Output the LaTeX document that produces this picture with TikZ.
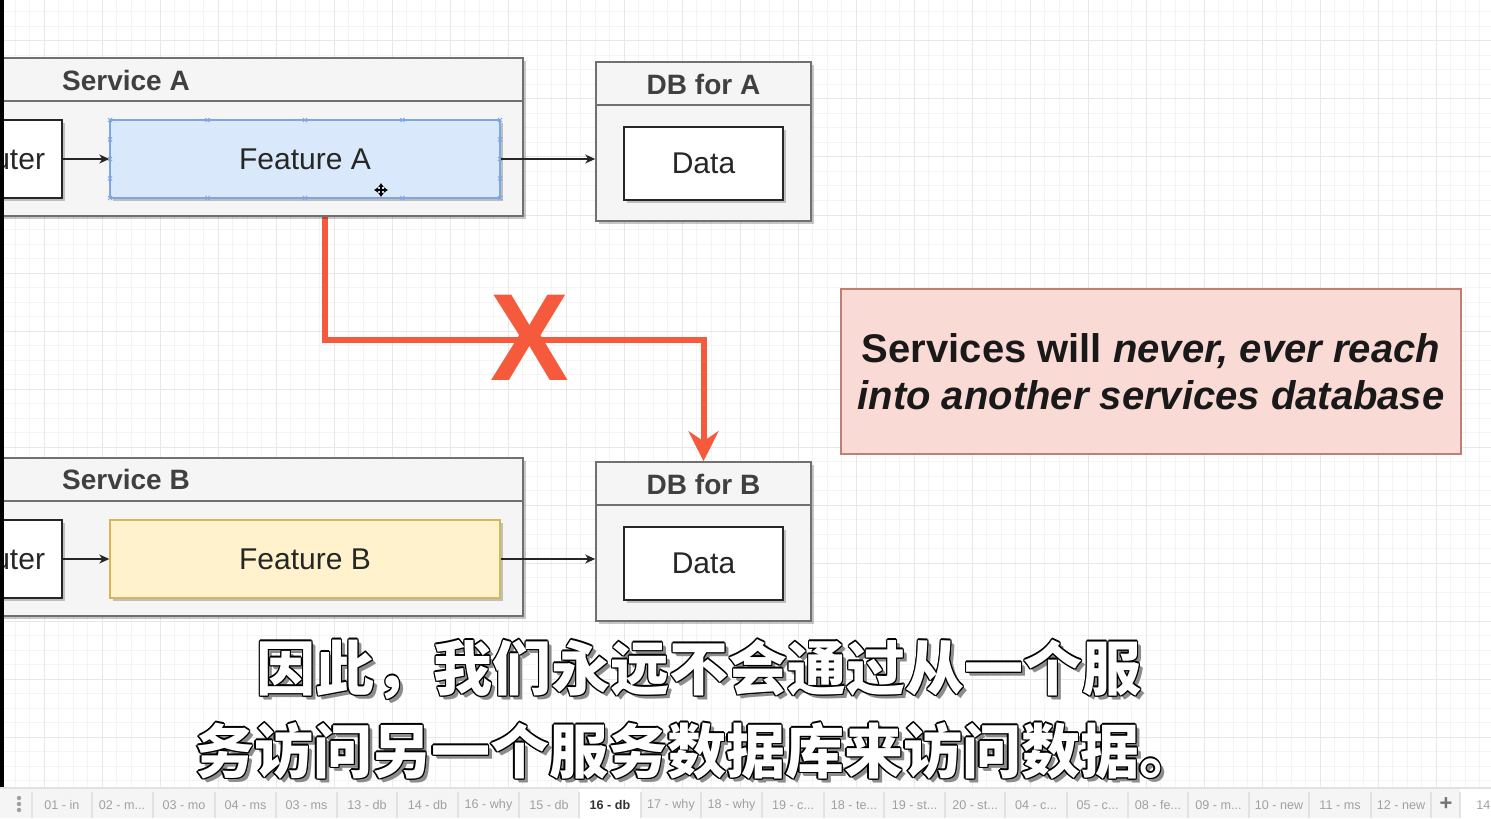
\documentclass[tikz,border=0pt]{standalone}
\usepackage{fontspec}
\setmainfont{Liberation Sans}
\newfontfamily\cjk{Noto Sans CJK SC}
\usetikzlibrary{arrows.meta,shadows}
\newcommand\tabdots{.\kern0pt.\kern0pt.}
\definecolor{cfill}{HTML}{F5F5F5}
\definecolor{cline}{HTML}{707070}
\definecolor{ttl}{HTML}{404040}
\definecolor{featAf}{HTML}{DAE8FC}
\definecolor{featAd}{HTML}{7EA6E0}
\definecolor{featBf}{HTML}{FFF2CC}
\definecolor{featBd}{HTML}{D6B656}
\definecolor{redc}{HTML}{F55A3C}
\definecolor{notef}{HTML}{FADAD4}
\definecolor{noted}{HTML}{C0806F}
\definecolor{gminor}{HTML}{F4F4F4}
\definecolor{gmajor}{HTML}{E8E8E8}
\definecolor{tabbg}{HTML}{F5F5F5}
\definecolor{tabtx}{HTML}{A0A0A0}
\definecolor{tabsep}{HTML}{E2E2E2}
\pgfdeclarelayer{gridlayer}
\pgfdeclarelayer{edgelayer}
\pgfsetlayers{gridlayer,edgelayer,main}
\tikzset{
  shad/.style={drop shadow={shadow xshift=1.3pt, shadow yshift=-1.3pt, opacity=0.22, fill=black}},
  cont/.style={draw=cline, fill=cfill, line width=0.8pt, inner sep=0pt, shad},
  hdr/.style={draw=cline, line width=0.8pt},
  ttlnode/.style={text=ttl, font=\bfseries\fontsize{14pt}{16pt}\selectfont, inner sep=0pt},
  wbox/.style={draw=black!85, fill=white, line width=0.7pt, inner sep=0pt, text=black!85, font=\fontsize{15pt}{18pt}\selectfont, shad},
  featA/.style={wbox, draw=featAd, fill=featAf},
  featB/.style={wbox, draw=featBd, fill=featBf},
  arr/.style={draw=black!85, line width=0.6pt, -{Stealth[length=5pt,width=4.5pt,inset=1.5pt]}},
  redarr/.style={draw=redc, line width=3pt, -{Stealth[length=15pt,width=15pt,inset=5pt]}},
  note/.style={draw=noted, fill=notef, line width=0.7pt, inner sep=0pt, align=center, text=black!90,
     font=\bfseries\fontsize{20pt}{23.5pt}\selectfont},
  handle/.style={draw=featAd, line width=0.5pt},
  subt/.style={font=\cjk\bfseries\fontsize{29.5pt}{30pt}\selectfont, inner sep=0pt, anchor=base},
  tabl/.style={text=tabtx, font=\fontsize{6.3pt}{7pt}\selectfont, inner sep=0pt},
}
\begin{document}
\begin{tikzpicture}[x=0.5pt,y=-0.5pt]
\useasboundingbox (0,0) rectangle (1491,818);
\clip (0,0) rectangle (1491,818);
% background and grid
\begin{pgfonlayer}{gridlayer}
  \fill[white] (0,0) rectangle (1491,818);
  \foreach \i in {0,...,102} \draw[gminor, line width=0.5pt] (\i*14.5+0.5,0) -- (\i*14.5+0.5,788);
  \foreach \i in {0,...,54} \draw[gminor, line width=0.5pt] (0,\i*14.5+12) -- (1491,\i*14.5+12);
  \foreach \i in {0,...,25} \draw[gmajor, line width=0.5pt] (44+58*\i,0) -- (44+58*\i,788);
  \foreach \i in {0,...,13} \draw[gmajor, line width=0.5pt] (0,41+58*\i) -- (1491,41+58*\i);
\end{pgfonlayer}

% ---------- Service A ----------
\node[cont, minimum width=397pt, minimum height=79pt] (svcA) at (126,137) {};
\draw[hdr] (svcA.west |- 0,101) -- (svcA.east |- 0,101);
\node[ttlnode] (svcAt) at (126,80) {Service A};
\node[wbox, minimum width=62pt, minimum height=39pt] (rtA) at (0,159) {Router};
\node[featA, minimum width=195pt, minimum height=39pt] (featA) at (305,159) {Feature A};
\foreach \x in {110,207.5,305,402.5,500} {
  \draw[handle] (\x-2,118) -- (\x+2,122) (\x-2,122) -- (\x+2,118);
  \draw[handle] (\x-2,196) -- (\x+2,200) (\x-2,200) -- (\x+2,196);
}
\foreach \y in {139.5,159,178.5} {
  \draw[handle] (108,\y-2) -- (112,\y+2) (108,\y+2) -- (112,\y-2);
  \draw[handle] (498,\y-2) -- (502,\y+2) (498,\y+2) -- (502,\y-2);
}
% move cursor
\begin{scope}[line width=0.6pt, black]
  \draw[-{Latex[length=2pt,width=3pt]}] (381,190) -- (381,183);
  \draw[-{Latex[length=2pt,width=3pt]}] (381,190) -- (381,197);
  \draw[-{Latex[length=2pt,width=3pt]}] (381,190) -- (374,190);
  \draw[-{Latex[length=2pt,width=3pt]}] (381,190) -- (388,190);
\end{scope}

% ---------- DB for A ----------
\node[cont, minimum width=107.5pt, minimum height=79.5pt] (dbA) at (703.5,141.5) {};
\draw[hdr] (dbA.west |- 0,105) -- (dbA.east |- 0,105);
\node[ttlnode] (dbAt) at (703.5,84) {DB for A};
\node[wbox, minimum width=79.5pt, minimum height=36.5pt] (dataA) at (703.5,163.5) {Data};

\draw[arr] (rtA.east) -- (featA.west);
\draw[arr] (featA.east) -- (dbA.west |- featA.east);

% ---------- Service B ----------
\node[cont, minimum width=397pt, minimum height=79pt] (svcB) at (126,537) {};
\draw[hdr] (svcB.west |- 0,501) -- (svcB.east |- 0,501);
\node[ttlnode] (svcBt) at (126,479) {Service B};
\node[wbox, minimum width=62pt, minimum height=39pt] (rtB) at (0,559) {Router};
\node[featB, minimum width=195pt, minimum height=39pt] (featB) at (305,559) {Feature B};

% ---------- DB for B ----------
\node[cont, minimum width=107.5pt, minimum height=79.5pt] (dbB) at (703.5,541.5) {};
\draw[hdr] (dbB.west |- 0,505) -- (dbB.east |- 0,505);
\node[ttlnode] (dbBt) at (703.5,484) {DB for B};
\node[wbox, minimum width=79.5pt, minimum height=36.5pt] (dataB) at (703.5,563.5) {Data};

\draw[arr] (rtB.east) -- (featB.west);
\draw[arr] (featB.east) -- (dbB.west |- featB.east);

% ---------- forbidden connection ----------
\coordinate (bendA) at (325,340);
\coordinate (bendB) at (703.5,340);
\begin{pgfonlayer}{edgelayer}
  \draw[redarr] (featA.south -| bendA) -- (bendA) -- (bendB) -- (dbB.north);
\end{pgfonlayer}
\node[text=redc, inner sep=0pt, font=\bfseries\fontsize{62pt}{62pt}\selectfont] (xmark) at (530,338) {\scalebox{0.95}[1]{X}};

% ---------- note ----------
\node[note, minimum width=310pt, minimum height=82.5pt] (note) at (1151,371.5)
  {Services will \textit{never, ever reach}\\\textit{into another services database}};

% ---------- left black strip ----------
\fill[black] (0,0) rectangle (3.5,787);

% ---------- tab bar ----------
\fill[tabbg] (0,788) rectangle (1491,818);
\draw[tabsep, line width=0.6pt] (0,788) -- (1491,788);
\fill[white] (579,788.5) rectangle (641,818);
\fill[white] (1460,788.5) rectangle (1491,818);
\foreach \x in {32,92,153,215,276,337,397,458,519,579,641,701,762,824,884,945,1005,1067,1128,1188,1249,1309,1371,1431,1460}
  \draw[tabsep, line width=0.6pt] (\x,792) -- (\x,818);
\foreach \y in {798,804,810} \fill[tabtx] (19,\y) circle (1.1pt);
\foreach \x/\l [count=\k] in {62/01 - in,122/02 - m\tabdots,184/03 - mo,245.5/04 - ms,306.5/03 - ms,367/13 - db,427.5/14 - db,488.5/16 - why,549/15 - db,671/17 - why,731.5/18 - why,793/19 - c\tabdots,854/18 - te\tabdots,914.5/19 - st\tabdots,975/20 - st\tabdots,1036/04 - c\tabdots,1097.5/05 - c\tabdots,1158/08 - fe\tabdots,1218.5/09 - m\tabdots,1279/10 - new,1340/11 - ms,1401/12 - new}
  \node[tabl] (tab\k) at (\x,805) {\l};
\node[tabl, text=black!80, font=\bfseries\fontsize{6.3pt}{7pt}\selectfont] (tabact) at (610,805) {16 - db};
\node[tabl, text=black!55, font=\bfseries\fontsize{11pt}{12pt}\selectfont] (tabplus) at (1446,804) {+};
\node[tabl, anchor=west] (tabnum) at (1476,805) {14};

% ---------- subtitles ----------
\foreach \dx/\dy [count=\k] in {4/4,3/3}
  \node[subt, text=black!45] (subAs\k) at (699+\dx,690+\dy) {因此，我们永远不会通过从一个服};
\foreach \dx/\dy [count=\k] in {-1.3/0,1.3/0,0/-1.3,0/1.3,-1/-1,1/-1,-1/1,1/1}
  \node[subt, text=black] (subAo\k) at (699+\dx,690+\dy) {因此，我们永远不会通过从一个服};
\node[subt, text=white] (subA) at (699,690) {因此，我们永远不会通过从一个服};
\foreach \dx/\dy [count=\k] in {4/4,3/3}
  \node[subt, text=black!45] (subBs\k) at (696.5+\dx,773+\dy) {务访问另一个服务数据库来访问数据。};
\foreach \dx/\dy [count=\k] in {-1.3/0,1.3/0,0/-1.3,0/1.3,-1/-1,1/-1,-1/1,1/1}
  \node[subt, text=black] (subBo\k) at (696.5+\dx,773+\dy) {务访问另一个服务数据库来访问数据。};
\node[subt, text=white] (subB) at (696.5,773) {务访问另一个服务数据库来访问数据。};
\end{tikzpicture}
\end{document}
